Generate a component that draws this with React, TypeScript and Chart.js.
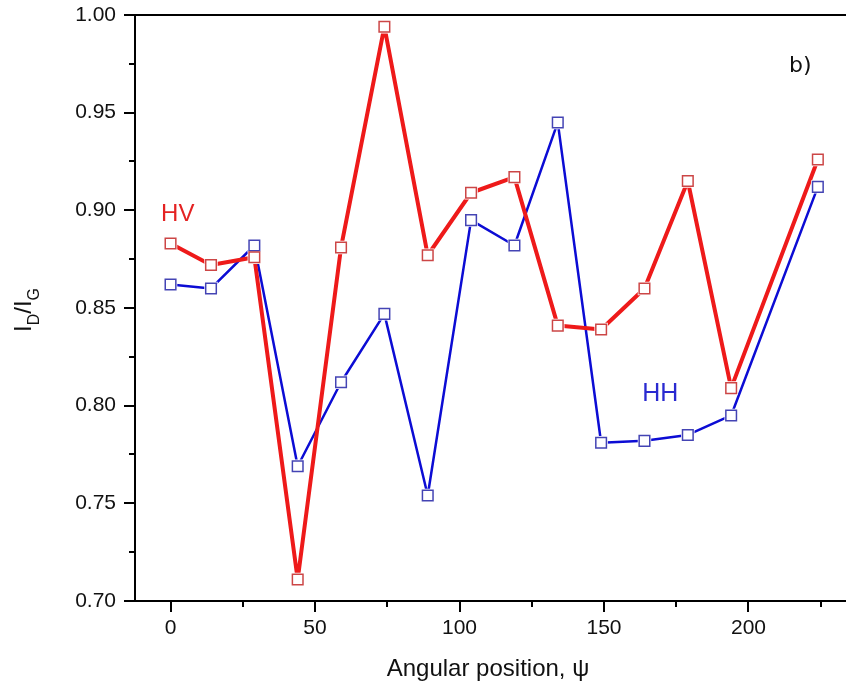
import React, { useEffect, useRef } from "react";
import { Chart, registerables } from "chart.js";

Chart.register(...registerables);

// ---- data ----
const angles = [0, 14, 29, 44, 59, 74, 89, 104, 119, 134, 149, 164, 179, 194, 224];
const hvValues = [0.883, 0.872, 0.876, 0.711, 0.881, 0.994, 0.877, 0.909, 0.917, 0.841, 0.839, 0.86, 0.915, 0.809, 0.926];
const hhValues = [0.862, 0.86, 0.882, 0.769, 0.812, 0.847, 0.754, 0.895, 0.882, 0.945, 0.781, 0.782, 0.785, 0.795, 0.912];

const xMajorTicks = [0, 50, 100, 150, 200];
const xMinorTicks = [25, 75, 125, 175, 225];
const yMajorTicks = [0.7, 0.75, 0.8, 0.85, 0.9, 0.95, 1.0];
const yMinorTicks = [0.725, 0.775, 0.825, 0.875, 0.925, 0.975];

const xTitle = "Angular position, ψ";
const seriesNames = ["HV", "HH"];
const panelLabel = "b)";

// annotation anchors in data space
const hvLabelAt = { x: 2.5, y: 0.898 };
const hhLabelAt = { x: 169.5, y: 0.806 };
const panelLabelAt = { x: 214, y: 0.974 };

const FONT = "'Liberation Sans', Arial, sans-serif";

const decorPlugin = {
  id: "decor",
  afterDraw(chart: any) {
    const { ctx, chartArea } = chart;
    const xs = chart.scales.x;
    const ys = chart.scales.y;
    ctx.save();
    ctx.strokeStyle = "#000";
    ctx.lineWidth = 2;
    // top frame line
    ctx.beginPath();
    ctx.moveTo(chartArea.left - 1, chartArea.top);
    ctx.lineTo(chartArea.right, chartArea.top);
    ctx.stroke();
    // ticks
    ctx.beginPath();
    xMajorTicks.forEach((v) => {
      const px = Math.round(xs.getPixelForValue(v));
      ctx.moveTo(px, chartArea.bottom);
      ctx.lineTo(px, chartArea.bottom + 11);
    });
    xMinorTicks.forEach((v) => {
      const px = Math.round(xs.getPixelForValue(v));
      ctx.moveTo(px, chartArea.bottom);
      ctx.lineTo(px, chartArea.bottom + 6);
    });
    yMajorTicks.forEach((v) => {
      const py = Math.round(ys.getPixelForValue(v));
      ctx.moveTo(chartArea.left, py);
      ctx.lineTo(chartArea.left - 11, py);
    });
    yMinorTicks.forEach((v) => {
      const py = Math.round(ys.getPixelForValue(v));
      ctx.moveTo(chartArea.left, py);
      ctx.lineTo(chartArea.left - 6, py);
    });
    ctx.stroke();

    // x title
    ctx.fillStyle = "#111";
    ctx.font = `24px ${FONT}`;
    ctx.textAlign = "center";
    ctx.textBaseline = "alphabetic";
    ctx.fillText(xTitle, 488, 676);

    // y title: I_D / I_G
    const mainFont = `24px ${FONT}`;
    const subFont = `16px ${FONT}`;
    const parts = [
      { t: "I", sub: false },
      { t: "D", sub: true },
      { t: "/", sub: false },
      { t: "I", sub: false },
      { t: "G", sub: true },
    ];
    let total = 0;
    parts.forEach((p) => {
      ctx.font = p.sub ? subFont : mainFont;
      total += ctx.measureText(p.t).width;
    });
    ctx.translate(31, (chartArea.top + chartArea.bottom) / 2 + 2);
    ctx.rotate(-Math.PI / 2);
    ctx.textAlign = "left";
    let cx = -total / 2;
    parts.forEach((p) => {
      ctx.font = p.sub ? subFont : mainFont;
      ctx.fillText(p.t, cx, p.sub ? 8 : 0);
      cx += ctx.measureText(p.t).width;
    });
    ctx.restore();

    // annotations
    ctx.save();
    ctx.textAlign = "center";
    ctx.textBaseline = "middle";
    ctx.font = `24px ${FONT}`;
    ctx.fillStyle = "#e42222";
    ctx.fillText(seriesNames[0], xs.getPixelForValue(hvLabelAt.x), ys.getPixelForValue(hvLabelAt.y));
    ctx.font = `25px ${FONT}`;
    ctx.fillStyle = "#2a2ad0";
    ctx.fillText(seriesNames[1], xs.getPixelForValue(hhLabelAt.x), ys.getPixelForValue(hhLabelAt.y));
    ctx.font = `22px 'DejaVu Sans', sans-serif`;
    ctx.fillStyle = "#111";
    ctx.textAlign = "left";
    ctx.fillText(panelLabel, xs.getPixelForValue(panelLabelAt.x), ys.getPixelForValue(panelLabelAt.y));
    ctx.restore();
  },
};

function makeSeries(label: string, values: number[], lineColor: string, lineWidth: number, markerColor: string, rank: number) {
  const pts = angles.map((a, i) => ({ x: a, y: values[i] }));
  return [
    // connecting line
    {
      label,
      data: pts,
      borderColor: lineColor,
      borderWidth: lineWidth,
      borderJoinStyle: "round",
      pointRadius: 0,
      tension: 0,
      order: 30 + rank,
    },
    // white halo so the line stops short of each marker
    {
      label: label + " halo",
      data: pts,
      showLine: false,
      pointStyle: "rect",
      pointRadius: 9.5,
      pointBorderWidth: 0,
      pointBackgroundColor: "#ffffff",
      pointBorderColor: "#ffffff",
      order: 20 + rank,
    },
    // open square markers
    {
      label: label + " markers",
      data: pts,
      showLine: false,
      pointStyle: "rect",
      pointRadius: 7.5,
      pointBorderWidth: 1.5,
      pointBorderColor: markerColor,
      pointBackgroundColor: "#ffffff",
      order: 10 + rank,
    },
  ];
}

export default function App() {
  const ref = useRef<HTMLCanvasElement>(null);
  useEffect(() => {
    if (!ref.current) return;
    const chart = new Chart(ref.current, {
      type: "line",
      data: {
        datasets: [
          ...makeSeries(seriesNames[0], hvValues, "#ee1a1a", 4, "#cc4646", 0),
          ...makeSeries(seriesNames[1], hhValues, "#0c0cd4", 2.5, "#4444b4", 1),
        ] as any,
      },
      options: {
        animation: false,
        responsive: false,
        devicePixelRatio: 1,
        layout: { padding: { top: 15, right: 5, left: 0, bottom: 0 } },
        plugins: { legend: { display: false }, tooltip: { enabled: false } },
        scales: {
          x: {
            type: "linear",
            min: -12.3,
            max: 235.3,
            grid: { display: false, drawTicks: false },
            border: { display: true, color: "#000", width: 2 },
            afterBuildTicks: (s: any) => {
              s.ticks = xMajorTicks.map((v) => ({ value: v }));
            },
            afterFit: (s: any) => {
              s.height = 93;
              s.paddingLeft = 0;
              s.paddingRight = 0;
            },
            ticks: {
              padding: 15,
              color: "#111",
              font: { family: FONT, size: 21 },
              maxRotation: 0,
              callback: (v: any) => String(v),
            },
          },
          y: {
            type: "linear",
            min: 0.7,
            max: 1.0,
            grid: { display: false, drawTicks: false },
            border: { display: true, color: "#000", width: 2 },
            afterBuildTicks: (s: any) => {
              s.ticks = yMajorTicks.map((v) => ({ value: v }));
            },
            afterFit: (s: any) => {
              s.width = 135;
              s.paddingTop = 0;
              s.paddingBottom = 0;
            },
            ticks: {
              padding: 19,
              color: "#111",
              font: { family: FONT, size: 21 },
              callback: (v: any) => Number(v).toFixed(2),
            },
          },
        },
      },
      plugins: [decorPlugin],
    });
    return () => chart.destroy();
  }, []);
  return (
    <div style={{ position: "absolute", left: 0, top: 0, width: 846, height: 694, overflow: "hidden", background: "#fff" }}>
      <canvas ref={ref} width={860} height={694} style={{ display: "block" }} />
    </div>
  );
}
